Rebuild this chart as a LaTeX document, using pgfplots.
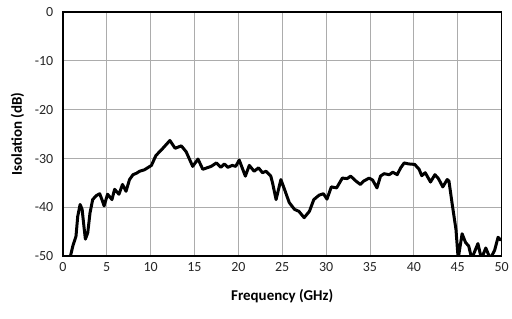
\documentclass[border=0pt]{standalone}
\usepackage{fontspec}
\setmainfont{Carlito}
\usepackage{pgfplots}
\pgfplotsset{compat=1.18}
\begin{document}
\begin{tikzpicture}
\begin{axis}[
  scale only axis, width=440pt, height=245pt,
  xmin=0, xmax=50, ymin=-50, ymax=0,
  xtick={0,5,...,50}, ytick={-50,-40,...,0},
  grid=major, major grid style={gray!65, line width=0.9pt},
  axis line style={black, line width=1.6pt},
  tick style={draw=none},
  /pgf/number format/assume math mode=true,
  ticklabel style={font=\fontsize{14}{16}\selectfont, text=black!85},
  xticklabel style={yshift=-3pt},
  yticklabel style={xshift=-6pt},
  xlabel={\textbf{Frequency (GHz)}},
  ylabel={\textbf{Isolation (dB)}},
  label style={font=\fontsize{15}{17}\selectfont},
  xlabel style={yshift=-11pt},
  ylabel style={yshift=4pt},
  clip=true,
]
\addplot[black, line width=3pt, line join=round, line cap=round] coordinates {
(0.8,-50.5) (1.14,-47.9) (1.5,-45.9) (1.7,-41.8) (1.97,-39.4) (2.2,-40.4) (2.4,-43.8) (2.57,-46.5) (2.84,-45.2) (3.1,-41.1) (3.4,-38.4) (3.8,-37.6) (4.2,-37.2) (4.5,-38.6) (4.7,-39.7) (5.1,-37.3) (5.6,-38.4) (5.9,-36.3) (6.4,-37.3) (6.8,-35.3) (7.2,-36.7) (7.6,-34.3) (8.0,-33.3) (8.4,-33.0) (8.75,-32.6) (9.3,-32.3) (10.1,-31.4) (10.6,-29.4) (11.4,-27.9) (12.2,-26.3) (12.8,-27.9) (13.5,-27.4) (14.05,-28.6) (14.8,-31.6) (15.4,-30.1) (15.95,-32.2) (16.9,-31.6) (17.5,-30.9) (18,-31.8) (18.4,-31.1) (18.8,-31.8) (19.3,-31.4) (19.7,-31.6) (20.1,-30.3) (20.8,-33.6) (21.25,-31.4) (21.8,-32.6) (22.3,-31.9) (22.75,-32.9) (23.15,-32.6) (23.7,-33.6) (23.9,-35) (24.3,-38.4) (24.85,-34.3) (25.2,-36) (25.8,-39) (26.4,-40.4) (26.9,-40.8) (27.5,-42.1) (28.1,-40.8) (28.6,-38.4) (29.2,-37.5) (29.7,-37.2) (30.1,-38.3) (30.6,-35.8) (31.2,-36) (31.85,-34) (32.4,-34.1) (32.8,-33.6) (33.4,-34.6) (33.9,-35.3) (34.3,-34.6) (34.9,-34) (35.3,-34.4) (35.8,-36) (36.2,-33.6) (36.6,-33.1) (37.2,-33.3) (37.6,-32.8) (38.1,-33.3) (38.5,-31.9) (38.9,-30.9) (39.4,-31.1) (40.1,-31.2) (40.6,-32.2) (40.9,-33.5) (41.3,-32.9) (41.9,-34.8) (42.4,-33.3) (42.8,-34.1) (43.3,-35.8) (43.8,-34.3) (44.0,-34.6) (44.4,-39.7) (44.8,-44.5) (45.05,-50.5) (45.5,-45.4) (45.9,-47.2) (46.25,-47.9) (46.6,-50.5) (47.3,-47.4) (47.7,-50.5) (48.2,-48.3) (48.7,-50.5) (49.2,-48.8) (49.6,-46.1) (49.9,-46.7)
};
\end{axis}
\path (current axis.south west) ++(-63pt,-62pt) coordinate (bbA);
\path (current axis.north east) ++(9pt,12pt) coordinate (bbB);
\path (bbA) (bbB);
\end{tikzpicture}
\end{document}
